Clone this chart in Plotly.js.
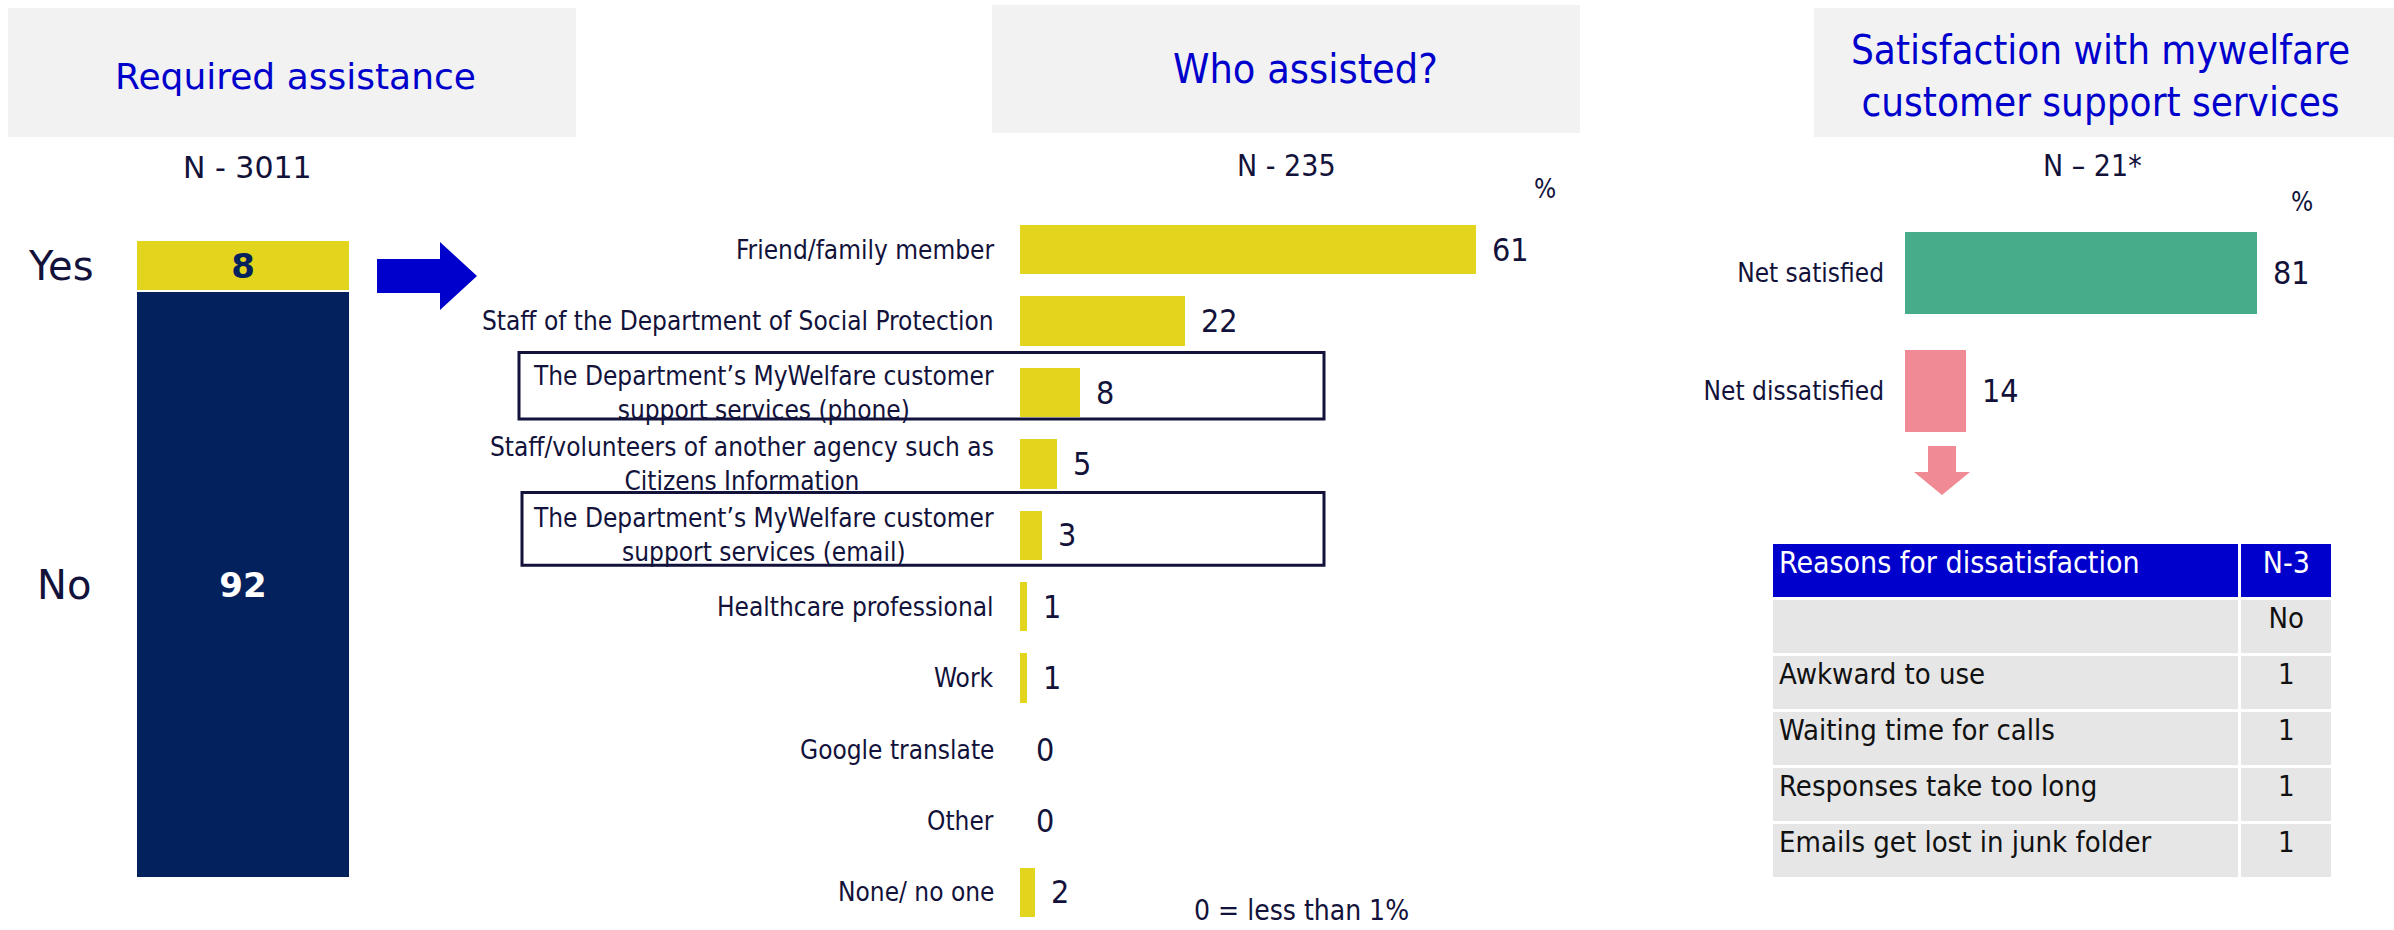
<!DOCTYPE html>
<html><head><meta charset="utf-8">
<script src="https://cdn.plot.ly/plotly-3.0.1.min.js"></script>
<style>html,body{margin:0;padding:0;background:#fff}#chart{width:2394px;height:930px}</style>
</head><body><div id="chart"></div>
<script>
// ---- data ----
const reqCategories = ['Yes', 'No'];
const reqValues = [8, 92];
const reqN = 'N - 3011';

const whoCategories = [
  'Friend/family member',
  'Staff of the Department of Social Protection',
  'The Department’s MyWelfare customer<br>support services (phone)',
  'Staff/volunteers of another agency such as<br>Citizens Information',
  'The Department’s MyWelfare customer<br>support services (email)',
  'Healthcare professional',
  'Work',
  'Google translate',
  'Other',
  'None/ no one'
];
const whoValues = [61, 22, 8, 5, 3, 1, 1, 0, 0, 2];
const whoN = 'N - 235';

const satCategories = ['Net satisfied', 'Net dissatisfied'];
const satValues = [81, 14];
const satN = 'N – 21*';

const reasonHeader = ['Reasons for dissatisfaction', 'N-3'];
const reasonLabels = ['', 'Awkward to use', 'Waiting time for calls', 'Responses take too long', 'Emails get lost in junk folder'];
const reasonCounts = ['No', '1', '1', '1', '1'];

// ---- helpers ----
const W = 2394, H = 930;
const X = p => p / W, Y = p => 1 - p / H;
const NARROW = "'Liberation Sans Narrow', 'DejaVu Sans Condensed', 'Arial Narrow', sans-serif";
const WIDE = "'DejaVu Sans', Verdana, sans-serif";
const INK = '#12123a';
const BLUE = '#0000CC';
const YELLOW = '#E3D51E';
const NAVY = '#03215C';

const traces = [];
// Panel 1: stacked column
traces.push({
  type: 'bar', x: ['r'], y: [reqValues[1]], name: reqCategories[1], width: 1,
  marker: {color: NAVY, line: {color: '#fff', width: 2}},
  text: ['<b>' + reqValues[1] + '</b>'], textposition: 'inside', insidetextanchor: 'middle',
  textfont: {family: WIDE, size: 34, color: '#fff'}, xaxis: 'x', yaxis: 'y', hoverinfo: 'none'
});
traces.push({
  type: 'bar', x: ['r'], y: [reqValues[0]], name: reqCategories[0], width: 1,
  marker: {color: YELLOW, line: {color: '#fff', width: 2}},
  text: ['<b>' + reqValues[0] + '</b>'], textposition: 'inside', insidetextanchor: 'middle',
  textfont: {family: WIDE, size: 34, color: NAVY}, xaxis: 'x', yaxis: 'y', hoverinfo: 'none'
});
// Panel 2: horizontal bars
traces.push({
  type: 'bar', orientation: 'h', x: whoValues, y: whoCategories, width: 0.69,
  marker: {color: YELLOW}, textposition: 'none',
  xaxis: 'x2', yaxis: 'y2', hoverinfo: 'none'
});
// Panel 3: satisfaction bars
traces.push({
  type: 'bar', orientation: 'h', x: satValues, y: satCategories, width: 0.69,
  marker: {color: ['#47AC8A', '#F08A94']}, textposition: 'none',
  xaxis: 'x3', yaxis: 'y3', hoverinfo: 'none'
});
// Table
traces.push({
  type: 'table',
  domain: {x: [X(1771), X(2334)], y: [Y(882), Y(542)]},
  columnwidth: [467, 93],
  header: {
    values: reasonHeader, align: ['left', 'center'], height: 56,
    fill: {color: BLUE}, line: {color: '#fff', width: 3},
    font: {family: NARROW, size: 30, color: '#fff'}
  },
  cells: {
    values: [reasonLabels, reasonCounts], align: ['left', 'center'], height: 56,
    fill: {color: '#E6E6E6'}, line: {color: '#fff', width: 3},
    font: {family: NARROW, size: 29, color: '#111'}
  }
});

const ann = [];
const shapes = [];
// title boxes
const titleBox = (x0, x1, y0, y1) => shapes.push({type: 'rect', xref: 'paper', yref: 'paper',
  x0: X(x0), x1: X(x1), y0: Y(y1), y1: Y(y0), fillcolor: '#F2F2F2', line: {width: 0}, layer: 'below'});
titleBox(8, 576, 8, 137);
titleBox(992, 1580, 5, 133);
titleBox(1814, 2394, 8, 137);
const txt = (t, x, y, size, family, color, extra) => ann.push(Object.assign({
  text: t, xref: 'paper', yref: 'paper', x: X(x), y: Y(y), showarrow: false,
  font: {family: family, size: size, color: color}, xanchor: 'center', yanchor: 'middle'}, extra || {}));
txt('Required assistance', 295, 76, 36, WIDE, BLUE);
txt('Who assisted?', 1305, 69, 41, NARROW, BLUE);
txt('Satisfaction with mywelfare<br>customer support services', 2100, 76, 40, NARROW, BLUE);
txt(reqN, 247, 167, 30, WIDE, INK);
txt(whoN, 1286, 165, 30, NARROW, INK);
txt(satN, 2092, 165, 30, NARROW, INK);
txt('%', 1545, 189, 26, NARROW, INK);
txt('%', 2302, 202, 26, NARROW, INK);
txt('0 = less than 1%', 1301, 910, 28, NARROW, INK);

// Yes / No labels
ann.push({text: reqCategories[0], xref: 'paper', yref: 'y', x: X(61), y: reqValues[1] + reqValues[0] / 2,
  xanchor: 'center', yanchor: 'middle', showarrow: false, font: {family: WIDE, size: 40, color: INK}});
ann.push({text: reqCategories[1], xref: 'paper', yref: 'y', x: X(64), y: reqValues[1] / 2,
  xanchor: 'center', yanchor: 'middle', showarrow: false, font: {family: WIDE, size: 40, color: INK}});

// category labels for panel 2 (centered multi-line)
whoCategories.forEach(c => ann.push({text: c, xref: 'paper', yref: 'y2', x: X(996), y: c,
  xanchor: 'right', yanchor: 'middle', align: 'center', showarrow: false,
  font: {family: NARROW, size: 26, color: INK}}));
// value labels panel 2
whoValues.forEach((v, i) => ann.push({text: String(v), xref: 'x2', yref: 'y2', x: v, y: whoCategories[i],
  xanchor: 'left', yanchor: 'middle', xshift: 14, showarrow: false,
  font: {family: NARROW, size: 32, color: INK}}));
// value labels panel 3
satValues.forEach((v, i) => ann.push({text: String(v), xref: 'x3', yref: 'y3', x: v, y: satCategories[i],
  xanchor: 'left', yanchor: 'middle', xshift: 14, showarrow: false,
  font: {family: NARROW, size: 32, color: INK}}));

// outline boxes around MyWelfare rows
shapes.push({type: 'rect', xref: 'paper', yref: 'y2', x0: X(519), x1: X(1324), y0: 2 - 0.56, y1: 2 + 0.37,
  line: {color: INK, width: 3}});
shapes.push({type: 'rect', xref: 'paper', yref: 'y2', x0: X(522), x1: X(1324), y0: 4 - 0.6, y1: 4 + 0.42,
  line: {color: INK, width: 3}});

// blue right arrow
const pathOf = pts => 'M ' + pts.map(p => X(p[0]) + ',' + Y(p[1])).join(' L ') + ' Z';
shapes.push({type: 'path', xref: 'paper', yref: 'paper', fillcolor: BLUE, line: {width: 0},
  path: pathOf([[377, 259], [440, 259], [440, 242], [477, 276], [440, 310], [440, 293], [377, 293]])});
// pink down arrow
shapes.push({type: 'path', xref: 'paper', yref: 'paper', fillcolor: '#F08A94', line: {width: 0},
  path: pathOf([[1928, 446], [1956, 446], [1956, 472], [1970, 472], [1942, 495], [1914, 472], [1928, 472]])});

const layout = {
  width: W, height: H, margin: {l: 0, r: 0, t: 0, b: 0},
  paper_bgcolor: '#fff', plot_bgcolor: 'rgba(0,0,0,0)',
  showlegend: false, barmode: 'stack',
  xaxis: {domain: [X(136), X(350)], range: [-0.5, 0.5], visible: false, fixedrange: true},
  yaxis: {domain: [Y(878), Y(240)], range: [0, 100], visible: false},
  xaxis2: {domain: [X(1020), X(1020 + 75 * 7.48)], range: [0, 75], visible: false, anchor: 'y2'},
  yaxis2: {domain: [Y(928), Y(214)], range: [9.5, -0.5], type: 'category', categoryorder: 'array',
    categoryarray: whoCategories, showticklabels: false, showgrid: false, zeroline: false, showline: false,
    ticks: '', anchor: 'x2'},
  xaxis3: {domain: [X(1905), X(1905 + 100 * 4.35)], range: [0, 100], visible: false, anchor: 'y3'},
  yaxis3: {domain: [Y(450), Y(214)], range: [1.5, -0.5], type: 'category', categoryorder: 'array',
    categoryarray: satCategories, showgrid: false, zeroline: false, showline: false, ticks: '',
    ticklabelstandoff: 20, tickfont: {family: NARROW, size: 26, color: INK}, anchor: 'x3'},
  annotations: ann, shapes: shapes
};
Plotly.newPlot('chart', traces, layout, {displayModeBar: false, staticPlot: true});
</script></body></html>
